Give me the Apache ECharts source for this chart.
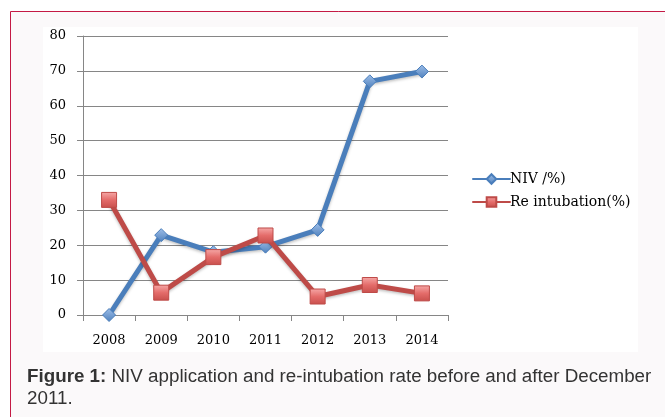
<!DOCTYPE html>
<html>
<head>
<meta charset="utf-8">
<script src="https://cdn.jsdelivr.net/npm/echarts@6/dist/echarts.min.js"></script>
<style>
  html, body { margin: 0; padding: 0; background: #ffffff; }
  #chart { width: 665px; height: 417px; }
</style>
</head>
<body>
<div id="chart"></div>
<script>
const years = ['2008', '2009', '2010', '2011', '2012', '2013', '2014'];
const nivValues = [0, 22.9, 18, 19.6, 24.4, 67, 69.8];
const reintubationValues = [33, 6.4, 16.6, 22.8, 5.3, 8.6, 6.2];
const yTicks = [0, 10, 20, 30, 40, 50, 60, 70, 80];
const seriesNames = ['NIV /%)', 'Re intubation(%)'];
const captionBold = 'Figure 1:';
const captionLine1 = ' NIV application and re-intubation rate before and after December';
const captionLine2 = '2011.';

const chart = echarts.init(document.getElementById('chart'), null, { renderer: 'canvas' });
const serif = 'DejaVu Serif';

chart.setOption({
  animation: false,
  backgroundColor: '#ffffff',
  graphic: [
    { type: 'rect', z: -10, silent: true,
      shape: { x: 10.5, y: 11.5, width: 700, height: 420 },
      style: { fill: '#fbf9fa', stroke: '#c41a45', lineWidth: 1 } },
    { type: 'rect', z: -9, silent: true,
      shape: { x: 43, y: 27, width: 595, height: 325 },
      style: { fill: '#ffffff' } },
    { type: 'text', left: 27, top: 367, silent: true,
      style: {
        text: '{b|' + captionBold + '}{r|' + captionLine1 + '}\n{r|' + captionLine2 + '}',
        rich: {
          b: { fontFamily: 'Liberation Sans', fontSize: 18.8, fontWeight: 'bold', fill: '#333333', lineHeight: 22 },
          r: { fontFamily: 'Liberation Sans', fontSize: 18.8, fill: '#333333', lineHeight: 22 }
        }
      } }
  ],
  grid: { left: 83, right: 217, top: 36, bottom: 102, containLabel: false },
  legend: {
    orient: 'vertical',
    left: 467,
    top: 167,
    itemWidth: 37,
    itemHeight: 12,
    itemGap: 9,
    textStyle: { fontFamily: serif, fontSize: 14, color: '#000000', padding: [0, 0, 0, -5] },
    data: seriesNames
  },
  xAxis: {
    type: 'category',
    data: years,
    boundaryGap: true,
    axisLine: { lineStyle: { color: '#868686', width: 1 } },
    axisTick: { show: true, length: 6, inside: false, alignWithLabel: false, lineStyle: { color: '#868686' } },
    axisLabel: { fontFamily: serif, fontSize: 13, color: '#000000', margin: 19, interval: 0 },
    splitLine: { show: false }
  },
  yAxis: {
    type: 'value',
    min: yTicks[0],
    max: yTicks[yTicks.length - 1],
    interval: 10,
    axisLine: { show: true, lineStyle: { color: '#868686', width: 1 } },
    axisTick: { show: true, length: 6, lineStyle: { color: '#868686' } },
    axisLabel: { fontFamily: serif, fontSize: 13, color: '#000000', margin: 17 },
    splitLine: { show: true, lineStyle: { color: '#868686', width: 1 } }
  },
  series: [
    {
      name: seriesNames[0],
      type: 'line',
      data: nivValues,
      symbol: 'diamond',
      symbolSize: 13,
      z: 2,
      lineStyle: { color: '#4a7ebb', width: 5, cap: 'round', join: 'round',
        shadowColor: 'rgba(0,0,0,0.25)', shadowBlur: 3, shadowOffsetY: 1.5 },
      itemStyle: {
        color: new echarts.graphic.LinearGradient(0, 0, 0, 1, [
          { offset: 0, color: '#9ebee8' }, { offset: 1, color: '#4f81bd' }
        ]),
        borderColor: '#4a7ebb', borderWidth: 1
      }
    },
    {
      name: seriesNames[1],
      type: 'line',
      data: reintubationValues,
      symbol: 'rect',
      symbolSize: 15,
      z: 3,
      lineStyle: { color: '#be4b48', width: 5, cap: 'round', join: 'round',
        shadowColor: 'rgba(0,0,0,0.25)', shadowBlur: 3, shadowOffsetY: 1.5 },
      itemStyle: {
        color: new echarts.graphic.LinearGradient(0, 0, 0, 1, [
          { offset: 0, color: '#f6a9a8' }, { offset: 0.5, color: '#e46c6a' }, { offset: 1, color: '#c84f4c' }
        ]),
        borderColor: '#be4b48', borderWidth: 1
      }
    }
  ]
});
</script>
</body>
</html>
